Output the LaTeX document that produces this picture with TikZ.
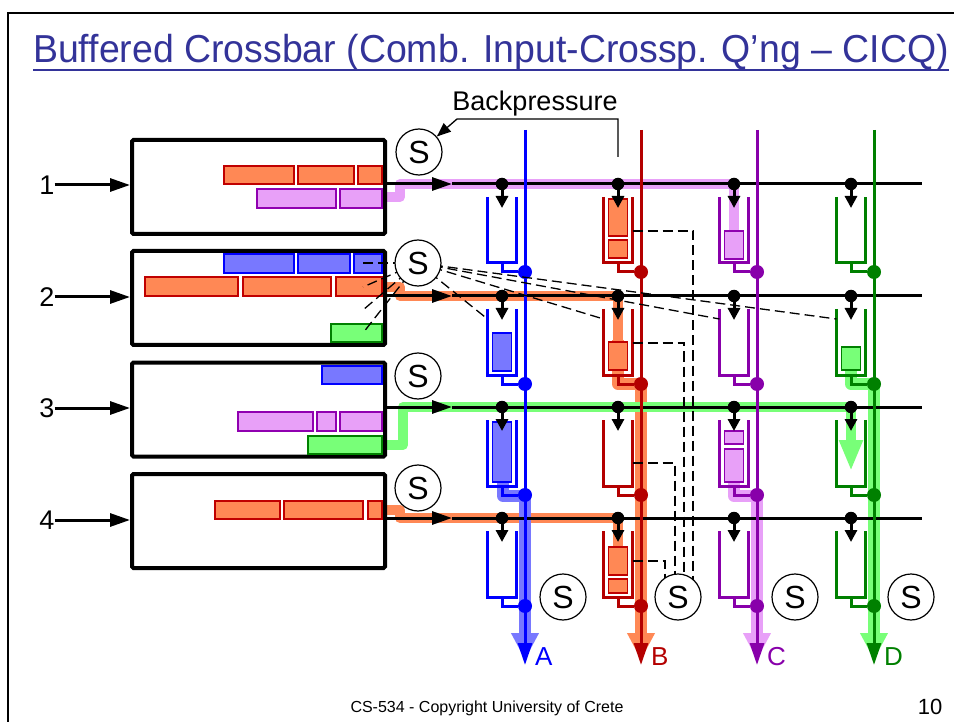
\documentclass[tikz,border=0pt]{standalone}
\usepackage{fontspec}
\setmainfont{Liberation Sans}
\usetikzlibrary{positioning,arrows.meta,calc}

\definecolor{titleblue}{HTML}{333399}
\definecolor{colA}{HTML}{0000FF}
\definecolor{colB}{HTML}{B40000}
\definecolor{colC}{HTML}{8800AA}
\definecolor{colD}{HTML}{008000}
\definecolor{lightA}{HTML}{7878FF}
\definecolor{lightB}{HTML}{FF8855}
\definecolor{lightC}{HTML}{E8A0F8}
\definecolor{lightD}{HTML}{78FF78}
\definecolor{edgeB}{HTML}{C00000}
\definecolor{edgeC}{HTML}{9000B0}

\begin{document}
\begin{tikzpicture}[x=1pt, y=-1pt,
  lbl/.style={inner sep=0pt, font=\fontsize{27}{27}\selectfont},
  outlbl/.style={anchor=west, inner sep=0pt, font=\fontsize{26}{26}\selectfont},
  inbox/.style={draw, line width=4pt, rounded corners=1.5pt, minimum width=253pt, minimum height=94pt, inner sep=0pt},
  snode/.style={circle, draw, line width=1.2pt, fill=white, minimum size=46pt, inner sep=0pt, font=\fontsize{32}{32}\selectfont},
  xpdot/.style={circle, fill=black, minimum size=12.5pt, inner sep=0pt},
  outdot/.style={circle, minimum size=14pt, inner sep=0pt},
  cup/.style={minimum width=29pt, minimum height=66pt, inner sep=0pt, outer sep=0pt},
  bus/.style={line width=3pt},
  busarrow/.style={line width=3pt, -{Triangle[length=20pt, width=13pt]}},
  outcol/.style={line width=3pt, -{Triangle[length=22pt, width=14pt]}},
  hlrow/.style={line width=10pt, line join=round},
  hlcol/.style={line width=12pt, line join=round, -{Triangle[length=27pt, width=26pt]}},
  qA/.style={draw=colA, fill=lightA, line width=1.5pt},
  qB/.style={draw=edgeB, fill=lightB, line width=1.5pt},
  qC/.style={draw=edgeC, fill=lightC, line width=1.5pt},
  qD/.style={draw=colD, fill=lightD, line width=1.5pt},
  bpdash/.style={line width=1.3pt, dash pattern=on 10pt off 5pt}
]
\useasboundingbox (0,0) rectangle (954,722);

% slide frame, title, footer
\draw[line width=2pt] (8,722) -- (8,13) -- (954,13);
\node[anchor=base west, inner sep=0pt, text=titleblue, font=\fontsize{39}{39}\selectfont] (title) at (33,63)
  {\scalebox{0.96}[1]{Buffered Crossbar (Comb. Input-Crossp. Q’ng – CICQ)}};
\draw[titleblue, line width=2.5pt] ($(title.base west)+(0,7)$) -- ($(title.base east)+(0,7)$);
\node[anchor=base, inner sep=0pt, font=\fontsize{16}{16}\selectfont] (foot) at (487,712) {CS-534 - Copyright University of Crete};
\node[anchor=base, inner sep=0pt, font=\fontsize{22}{22}\selectfont] (pg) at (930,714) {10};

% highlighted paths
\draw[hlrow, lightC] (387,197) -| (400,184) -- (734,184) -- (734,231);
\draw[hlrow, lightB] (387,287) -| (400,296) -- (618,296) -- (618,340);
\draw[hlcol, lightB] (618,340) |- (641,384) -- (641,660);
\draw[hlrow, lightB] (387,510) -| (400,518) -- (618,518) -- (618,547);
\draw[hlrow, lightD, -{Triangle[length=31pt, width=22pt]}] (387,445) -| (403,407) -- (851,407) -- (851,471);
\draw[hlcol, lightD] (851,370) |- (874,384) -- (874,660);
\draw[hlcol, lightA] (503,482) |- (525,496) -- (525,660);
\draw[hlcol, lightC] (734,482) |- (757,496) -- (757,660);

% inputs
\node[inbox] (b1) at (258.5,187) {};
\node[inbox] (b2) at (258.5,298) {};
\node[inbox] (b3) at (258.5,409.5) {};
\node[inbox] (b4) at (258.5,521) {};
\node[lbl] (l1) at (47,185) {1};
\node[lbl] (l2) at (47,297) {2};
\node[lbl] (l3) at (47,408) {3};
\node[lbl] (l4) at (47,520) {4};
\draw[busarrow] (l1) -- (l1 -| b1.west);
\draw[busarrow] (l2) -- (l2 -| b2.west);
\draw[busarrow] (l3) -- (l3 -| b3.west);
\draw[busarrow] (l4) -- (l4 -| b4.west);

% input queues
\draw[qB] (224,166) rectangle (294,184);
\draw[qB] (298,166) rectangle (354,184);
\draw[qB] (358,166) rectangle (382,184);
\draw[qC] (257,189) rectangle (336,208);
\draw[qC] (340,189) rectangle (382,208);
\draw[qA] (224,254) rectangle (294,273);
\draw[qA] (298,254) rectangle (350,273);
\draw[qA] (354,254) rectangle (382,273);
\draw[qB] (145,277) rectangle (238,296);
\draw[qB] (243,277) rectangle (331,296);
\draw[qB] (336,277) rectangle (382,296);
\draw[qD] (331,324) rectangle (382,342);
\draw[qA] (322,366) rectangle (382,384);
\draw[qC] (238,412) rectangle (313,431);
\draw[qC] (317,412) rectangle (336,431);
\draw[qC] (340,412) rectangle (382,431);
\draw[qD] (308,436) rectangle (382,454);
\draw[qB] (215,501) rectangle (280,519);
\draw[qB] (284,501) rectangle (363,519);
\draw[qB] (368,501) rectangle (382,519);

% rows
\coordinate (m1) at (452,184); \coordinate (e1) at (922,184);
\coordinate (m2) at (452,296); \coordinate (e2) at (922,296);
\coordinate (m3) at (452,407); \coordinate (e3) at (922,407);
\coordinate (m4) at (452,518); \coordinate (e4) at (922,518);
\draw[busarrow] (b1.east |- m1) -- (m1);
\draw[busarrow] (b2.east |- m2) -- (m2);
\draw[busarrow] (b3.east |- m3) -- (m3);
\draw[busarrow] (b4.east |- m4) -- (m4);
\draw[bus] (m1) -- (e1);
\draw[bus] (m2) -- (e2);
\draw[bus] (m3) -- (e3);
\draw[bus] (m4) -- (e4);

% outputs
\coordinate (tA) at (525,130); \coordinate (eA) at (525,665);
\coordinate (tB) at (641,130); \coordinate (eB) at (641,665);
\coordinate (tC) at (757,130); \coordinate (eC) at (757,665);
\coordinate (tD) at (874,130); \coordinate (eD) at (874,665);
\draw[outcol, colA] (tA) -- (eA);
\draw[outcol, colB] (tB) -- (eB);
\draw[outcol, colC] (tC) -- (eC);
\draw[outcol, colD] (tD) -- (eD);
\node[outlbl, text=colA] (oA) at (535,657) {A};
\node[outlbl, text=colB] (oB) at (651,657) {B};
\node[outlbl, text=colC] (oC) at (767,657) {C};
\node[outlbl, text=colD] (oD) at (884,657) {D};

% crosspoint queues
\draw[qB] (608.5,199) rectangle (627.5,236);
\draw[qB] (608.5,240) rectangle (627.5,258);
\draw[qC] (724.5,231) rectangle (743.5,259);
\draw[qA] (492.5,333) rectangle (511.5,371);
\draw[qB] (608.5,342) rectangle (627.5,370);
\draw[qD] (841.5,347) rectangle (860.5,370);
\draw[qA] (492.5,422) rectangle (511.5,482);
\draw[qC] (724.5,431) rectangle (743.5,444);
\draw[qC] (724.5,449) rectangle (743.5,482);
\draw[qB] (608.5,547) rectangle (627.5,575);
\draw[qB] (608.5,579) rectangle (627.5,593);

% crosspoints
\foreach \r/\y in {1/184,2/296,3/407,4/518}{
  \foreach \c/\x in {A/525,B/641,C/757,D/874}{
    \node[xpdot] (p\r\c) at (\x-23,\y) {};
    \node[cup] (u\r\c) at (\x-23,\y+46) {};
    \node[outdot, fill=col\c] (q\r\c) at (\x,\y+88) {};
    \draw[col\c, line width=3pt] (u\r\c.north west) |- (u\r\c.south east) -- (u\r\c.north east);
    \draw[col\c, line width=3pt] (u\r\c.south) |- (q\r\c);
    \draw[line width=3pt, -{Triangle[length=12pt, width=12pt]}] (p\r\c) -- ++(0,24);
  }
}

% backpressure
\coordinate (s1c) at (419,152);
\coordinate (s2c) at (418,263);
\coordinate (s3c) at (418,376);
\coordinate (s4c) at (418,488);
\coordinate (sbc) at (678,597);
\coordinate (ia) at (363,263);
\coordinate (ib) at (363,287);
\coordinate (ic) at (363,310);
\coordinate (id) at (363,333);
\draw[bpdash] (s2c) -- (ia);
\draw[bpdash] (s2c) -- (ib);
\draw[bpdash] (s2c) -- (ic);
\draw[bpdash] (s2c) -- (id);
\draw[bpdash] (s2c) -- ($(u2A.north west)+(0,10)$);
\draw[bpdash] (s2c) -- ($(u2B.north west)+(0,10)$);
\draw[bpdash] (s2c) -- ($(u2C.north west)+(0,10)$);
\draw[bpdash] (s2c) -- ($(u2D.north west)+(0,10)$);
\coordinate (kb1) at (693,231);
\coordinate (kb2) at (684,343);
\coordinate (kb3) at (675,463);
\coordinate (kb4) at (665,561);
\draw[bpdash] (u1B.east |- kb1) -- (kb1) -- (kb1 |- sbc);
\draw[bpdash] (u2B.east |- kb2) -- (kb2) -- (kb2 |- sbc);
\draw[bpdash] (u3B.east |- kb3) -- (kb3) -- (kb3 |- sbc);
\draw[bpdash] (u4B.east |- kb4) -- (kb4) -- (kb4 |- sbc);

% schedulers
\node[snode] (s1) at (s1c) {S};
\node[snode] (s2) at (s2c) {S};
\node[snode] (s3) at (s3c) {S};
\node[snode] (s4) at (s4c) {S};
\node[snode] (sA) at (563,597) {S};
\node[snode] (sB) at (sbc) {S};
\node[snode] (sC) at (795,597) {S};
\node[snode] (sD) at (911,597) {S};

\node[lbl] (bp) at (535,104) {Backpressure};
\coordinate (bpx) at (618,157);
\coordinate (bpk) at (457,119);
\draw[line width=1.3pt, -{Triangle[length=14pt, width=11pt]}] (bpx) |- (bpk) -- (s1);

\end{tikzpicture}
\end{document}
